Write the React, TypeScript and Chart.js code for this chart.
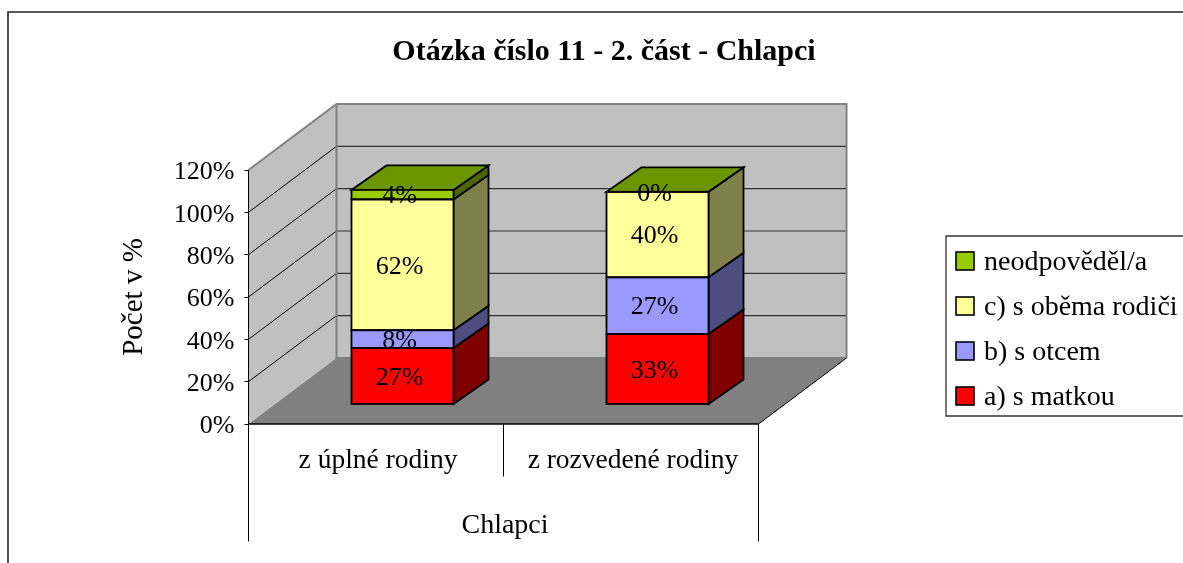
import React, { useEffect, useRef } from "react";
import { Chart, registerables } from "chart.js";

Chart.register(...registerables);

const categories = ["z úplné rodiny", "z rozvedené rodiny"];
const groupLabel = "Chlapci";
const titleText = "Otázka číslo 11 - 2. část - Chlapci";
const yAxisTitle = "Počet v %";

const matkou = [0.267, 0.333];
const otcem = [0.084, 0.268];
const obema = [0.618, 0.404];
const neodpovedel = [0.0449, 0];

const seriesNames = ["a) s matkou", "b) s otcem", "c) s oběma rodiči", "neodpověděl/a"];
const frontColors = ["#ff0000", "#9999ff", "#ffff99", "#99cc00"];
const sideColors = ["#800000", "#4d4d80", "#80804d", "#4d6600"];
const topColor = "#6b9600";

const FONT = '"Liberation Serif"';
const WALL_DX = 88;
const WALL_DY = 66;
const BAR_SHIFT_X = 26.5;
const BAR_SHIFT_Y = -19.5;
const BAR_DX = 35;
const BAR_DY = 24.5;

const poly = (ctx: any, pts: number[][], fill?: string, stroke?: string, lw = 1) => {
  ctx.beginPath();
  pts.forEach((p, i) => (i ? ctx.lineTo(p[0], p[1]) : ctx.moveTo(p[0], p[1])));
  ctx.closePath();
  if (fill) {
    ctx.fillStyle = fill;
    ctx.fill();
  }
  if (stroke) {
    ctx.strokeStyle = stroke;
    ctx.lineWidth = lw;
    ctx.lineJoin = "miter";
    ctx.stroke();
  }
};

const line = (ctx: any, pts: number[][], stroke: string, lw = 1) => {
  ctx.beginPath();
  pts.forEach((p, i) => (i ? ctx.lineTo(p[0], p[1]) : ctx.moveTo(p[0], p[1])));
  ctx.strokeStyle = stroke;
  ctx.lineWidth = lw;
  ctx.stroke();
};

const scene3d = {
  id: "scene3d",
  beforeDraw(chart: any) {
    const { ctx, chartArea: a, scales } = chart;
    const y = scales.y;
    if (chart.titleBlock) {
      chart.titleBlock.left = 304;
      chart.titleBlock.right = 904;
    }
    if (!chart.$ticksNudged) {
      chart.$ticksNudged = true;
      y.getLabelItems(a).forEach((item: any) => {
        item.textOffset += 2.5;
      });
      scales.x.getLabelItems(a).forEach((item: any) => {
        item.options.translation[0] += 2;
        item.options.translation[1] += 1;
      });
    }
    const y0 = y.getPixelForValue(0);
    const yTop = y.getPixelForValue(1.2);
    const L = a.left;
    const R = a.right;
    ctx.save();
    // frame of the chart
    line(ctx, [[8, 563], [8, 12], [1183, 12]], "#222", 1.6);
    // side wall, back wall, floor
    poly(ctx, [[L, y0], [L + WALL_DX, y0 - WALL_DY], [L + WALL_DX, yTop - WALL_DY], [L, yTop]], "#c0c0c0");
    poly(ctx, [[L + WALL_DX, y0 - WALL_DY], [R + WALL_DX, y0 - WALL_DY], [R + WALL_DX, yTop - WALL_DY], [L + WALL_DX, yTop - WALL_DY]], "#c0c0c0");
    poly(ctx, [[L, y0], [L + WALL_DX, y0 - WALL_DY], [R + WALL_DX, y0 - WALL_DY], [R, y0]], "#808080");
    // gridlines
    y.ticks.forEach((t: any) => {
      if (t.value <= 0 || t.value >= 1.2) return;
      const p = y.getPixelForValue(t.value);
      line(ctx, [[L, p], [L + WALL_DX, p - WALL_DY]], "#000", 1);
      line(ctx, [[L + WALL_DX, p - WALL_DY], [R + WALL_DX, p - WALL_DY]], "#333", 1.2);
    });
    // wall outlines
    line(ctx, [[L, yTop], [L + WALL_DX, yTop - WALL_DY], [R + WALL_DX, yTop - WALL_DY], [R + WALL_DX, y0 - WALL_DY]], "#808080", 2);
    line(ctx, [[L + WALL_DX, yTop - WALL_DY], [L + WALL_DX, y0 - WALL_DY], [R + WALL_DX, y0 - WALL_DY]], "#808080", 2);
    line(ctx, [[R, y0], [R + WALL_DX, y0 - WALL_DY]], "#000", 1);
    line(ctx, [[L, y0], [R, y0]], "#000", 1.6);
    // multi-level category separators
    const xs = scales.x;
    const mid = (xs.getPixelForValue(0) + xs.getPixelForValue(1)) / 2;
    line(ctx, [[L, y0], [L, 541.5]], "#000", 1);
    line(ctx, [[R, y0], [R, 541.5]], "#000", 1);
    line(ctx, [[mid, y0], [mid, 476.5]], "#000", 1);
    ctx.fillStyle = "#000";
    ctx.font = `28px ${FONT}`;
    ctx.textAlign = "center";
    ctx.textBaseline = "middle";
    ctx.fillText(groupLabel, (L + R) / 2 + 1.5, 525.5);
    // legend
    const boxL = 946;
    line(ctx, [[1183, 236], [boxL, 236], [boxL, 416], [1183, 416]], "#333", 1.3);
    const rows = [261, 306, 351, 396];
    ctx.textAlign = "left";
    chart.data.datasets
      .slice()
      .reverse()
      .forEach((ds: any, i: number) => {
        const yy = rows[i];
        ctx.fillStyle = ds.backgroundColor;
        ctx.strokeStyle = "#000";
        ctx.lineWidth = 1.6;
        ctx.fillRect(956, yy - 9, 18, 18);
        ctx.strokeRect(956, yy - 9, 18, 18);
        ctx.fillStyle = "#000";
        ctx.fillText(ds.label, 984, yy + 2);
      });
    ctx.restore();
  },
  beforeDatasetsDraw(chart: any) {
    const { ctx } = chart;
    ctx.save();
    ctx.translate(BAR_SHIFT_X, BAR_SHIFT_Y);
    const n = chart.data.datasets.length;
    for (let d = 0; d < n; d++) {
      chart.getDatasetMeta(d).data.forEach((bar: any) => {
        const r = bar.x + bar.width / 2;
        const t = bar.y;
        const b = bar.base;
        poly(ctx, [[r, b], [r + BAR_DX, b - BAR_DY], [r + BAR_DX, t - BAR_DY], [r, t]], sideColors[d], "#000", 1.8);
      });
    }
    chart.getDatasetMeta(n - 1).data.forEach((bar: any) => {
      const l = bar.x - bar.width / 2;
      const r = bar.x + bar.width / 2;
      const t = bar.y;
      poly(ctx, [[l, t], [r, t], [r + BAR_DX, t - BAR_DY], [l + BAR_DX, t - BAR_DY]], topColor, "#000", 1.8);
    });
  },
  afterDatasetsDraw(chart: any) {
    const { ctx } = chart;
    const n = chart.data.datasets.length;
    for (let d = 0; d < n; d++) {
      chart.getDatasetMeta(d).data.forEach((bar: any) => {
        const l = bar.x - bar.width / 2;
        const t = bar.y;
        ctx.strokeStyle = "#000";
        ctx.lineWidth = 1.8;
        ctx.strokeRect(l, t, bar.width, bar.base - t);
      });
    }
    ctx.fillStyle = "#000";
    ctx.font = `26px ${FONT}`;
    ctx.textAlign = "center";
    ctx.textBaseline = "middle";
    for (let d = 0; d < n; d++) {
      const ds = chart.data.datasets[d];
      chart.getDatasetMeta(d).data.forEach((bar: any, i: number) => {
        const label = `${Math.round(ds.data[i] * 100)}%`;
        ctx.fillText(label, bar.x - 3, (bar.y + bar.base) / 2 + 2);
      });
    }
    ctx.restore();
  },
};

const allSeries = [matkou, otcem, obema, neodpovedel];

export default function App() {
  const ref = useRef<HTMLCanvasElement>(null);
  useEffect(() => {
    Chart.defaults.font.family = FONT;
    const chart = new Chart(ref.current as any, {
      type: "bar",
      data: {
        labels: categories,
        datasets: allSeries.map((data, i) => ({
          label: seriesNames[i],
          data,
          backgroundColor: frontColors[i],
          borderWidth: 0,
          barPercentage: 0.4,
          categoryPercentage: 1,
          clip: false,
        })),
      },
      plugins: [scene3d],
      options: {
        animation: false,
        responsive: false,
        layout: { padding: { left: 116.5, right: 424.5, top: 34, bottom: 0 } },
        plugins: {
          legend: { display: false },
          tooltip: { enabled: false },
          title: {
            display: true,
            text: titleText,
            color: "#000",
            font: { family: FONT, size: 30, weight: "bold", lineHeight: 1.2 },
            padding: { top: 0, bottom: 100 },
          },
        },
        scales: {
          x: {
            stacked: true,
            grid: { display: false },
            border: { display: false },
            ticks: {
              color: "#000",
              font: { family: FONT, size: 27.5 },
              padding: 11.5,
              autoSkip: false,
              minRotation: 0,
              maxRotation: 0,
            },
            afterFit: (s: any) => {
              s.height = 139;
            },
          },
          y: {
            stacked: true,
            min: 0,
            max: 1.2,
            grid: { drawOnChartArea: false, tickLength: 4, color: "#000" },
            border: { color: "#000", width: 1 },
            ticks: {
              stepSize: 0.2,
              color: "#000",
              font: { family: FONT, size: 26 },
              padding: 10,
              callback: (v: any) => `${Math.round(Number(v) * 100)}%`,
            },
            title: {
              display: true,
              text: yAxisTitle,
              color: "#000",
              font: { family: FONT, size: 29, lineHeight: 1.2 },
              padding: 0,
            },
            afterFit: (s: any) => {
              s.width = 132;
            },
          },
        },
      },
    } as any);
    return () => chart.destroy();
  }, []);
  return (
    <canvas
      ref={ref}
      width={1183}
      height={563}
      style={{ position: "absolute", left: 0, top: 0, display: "block" }}
    />
  );
}
